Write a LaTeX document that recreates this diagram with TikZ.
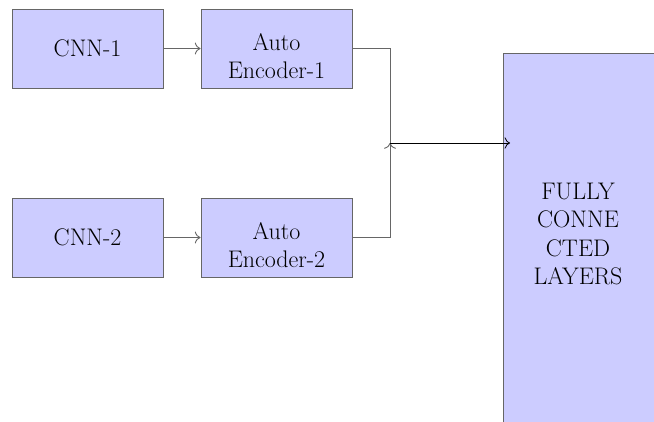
\documentclass[tikz,border=0pt]{standalone}
\usetikzlibrary{arrows.meta}
\begin{document}
\begin{tikzpicture}[x=1pt,y=-1pt, >={To[scale=1.6]},
  box/.style={draw=black!60, fill=blue!20, line width=0.9pt, inner sep=0pt,
    minimum width=151pt, minimum height=79pt, align=center,
    font=\fontsize{24}{28}\selectfont},
  conn/.style={draw=black!60, line width=0.9pt},
  mainarrow/.style={draw=black, line width=0.8pt},
  lbl/.style={align=center, inner sep=0pt, font=\fontsize{24}{28.3}\selectfont}]
\useasboundingbox (0,0) rectangle (654,421);
\clip (0,0) rectangle (654,421);
\node[box] (cnn1) at (87.5,48.5) {CNN-1};
\node[box] (ae1) at (276.5,48.5) {\rule{0pt}{32.5pt}Auto\\Encoder-1};
\node[box] (cnn2) at (87.5,237.5) {CNN-2};
\node[box] (ae2) at (276.5,237.5) {\rule{0pt}{32.5pt}Auto\\Encoder-2};
\node[box, minimum width=150.5pt, minimum height=400pt, anchor=north west] (fc) at (503,53) {};
\node[lbl] (fctext) at (578,234) {FULLY\\CONNE\\CTED\\LAYERS};
\coordinate (j) at (390,143);
\draw[conn,->] (cnn1) -- (ae1);
\draw[conn,->] (cnn2) -- (ae2);
\draw[conn] (ae1.east) -| (j);
\draw[conn,->] (ae2.east) -| (j);
\draw[mainarrow,->,shorten >=-7pt] (j) -- (fc.west |- j);
\end{tikzpicture}
\end{document}
